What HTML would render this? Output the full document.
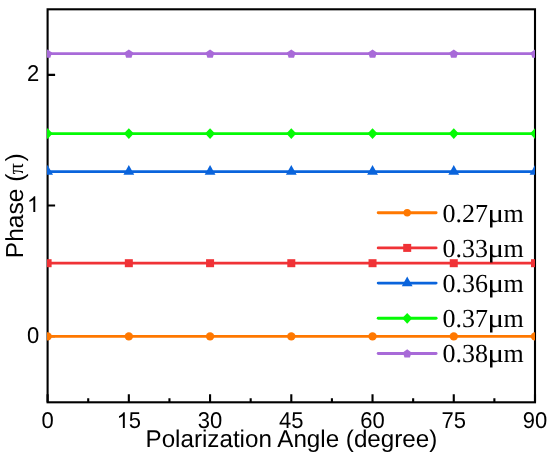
<!DOCTYPE html>
<html><head><meta charset="utf-8"><style>
html,body{margin:0;padding:0;background:#fff;}
body{width:550px;height:459px;overflow:hidden;}
svg{display:block;will-change:transform;}
text{text-rendering:geometricPrecision;}
text{font-family:"Liberation Sans",sans-serif;fill:#000;}
.s{font-family:"Liberation Serif",serif;}
</style></head><body>
<svg width="550" height="459" viewBox="0 0 550 459">
<defs><clipPath id="c"><rect x="47.00" y="0" width="488.00" height="459"/></clipPath></defs>

<rect x="47.6" y="9.3" width="487.4" height="393.0" fill="none" stroke="#000" stroke-width="2.1"/>
<path d="M47.60 402.3 V394.3 M128.83 402.3 V394.3 M210.07 402.3 V394.3 M291.30 402.3 V394.3 M372.53 402.3 V394.3 M453.77 402.3 V394.3 M535.00 402.3 V394.3 M88.22 402.3 V398.3 M169.45 402.3 V398.3 M250.68 402.3 V398.3 M331.92 402.3 V398.3 M413.15 402.3 V398.3 M494.38 402.3 V398.3 M47.6 336.10 H55.1 M47.6 205.50 H55.1 M47.6 74.90 H55.1" stroke="#000" stroke-width="2.1" fill="none"/>
<g clip-path="url(#c)">
<line x1="42.6" y1="336.4" x2="540.0" y2="336.4" stroke="#FF7800" stroke-width="2.8"/>
<circle cx="47.60" cy="336.40" r="4.20" fill="#FF7800"/>
<circle cx="128.83" cy="336.40" r="4.20" fill="#FF7800"/>
<circle cx="210.07" cy="336.40" r="4.20" fill="#FF7800"/>
<circle cx="291.30" cy="336.40" r="4.20" fill="#FF7800"/>
<circle cx="372.53" cy="336.40" r="4.20" fill="#FF7800"/>
<circle cx="453.77" cy="336.40" r="4.20" fill="#FF7800"/>
<circle cx="535.00" cy="336.40" r="4.20" fill="#FF7800"/>
<line x1="42.6" y1="263.2" x2="540.0" y2="263.2" stroke="#F03236" stroke-width="2.8"/>
<rect x="43.60" y="259.20" width="8.00" height="8.00" fill="#F03236"/>
<rect x="124.83" y="259.20" width="8.00" height="8.00" fill="#F03236"/>
<rect x="206.07" y="259.20" width="8.00" height="8.00" fill="#F03236"/>
<rect x="287.30" y="259.20" width="8.00" height="8.00" fill="#F03236"/>
<rect x="368.53" y="259.20" width="8.00" height="8.00" fill="#F03236"/>
<rect x="449.77" y="259.20" width="8.00" height="8.00" fill="#F03236"/>
<rect x="531.00" y="259.20" width="8.00" height="8.00" fill="#F03236"/>
<line x1="42.6" y1="171.6" x2="540.0" y2="171.6" stroke="#0A64DC" stroke-width="2.8"/>
<path d="M47.60 164.90 L53.00 174.80 L42.20 174.80Z" fill="#0A64DC"/>
<path d="M128.83 164.90 L134.23 174.80 L123.43 174.80Z" fill="#0A64DC"/>
<path d="M210.07 164.90 L215.47 174.80 L204.67 174.80Z" fill="#0A64DC"/>
<path d="M291.30 164.90 L296.70 174.80 L285.90 174.80Z" fill="#0A64DC"/>
<path d="M372.53 164.90 L377.93 174.80 L367.13 174.80Z" fill="#0A64DC"/>
<path d="M453.77 164.90 L459.17 174.80 L448.37 174.80Z" fill="#0A64DC"/>
<path d="M535.00 164.90 L540.40 174.80 L529.60 174.80Z" fill="#0A64DC"/>
<line x1="42.6" y1="133.6" x2="540.0" y2="133.6" stroke="#05FA05" stroke-width="2.8"/>
<path d="M47.60 128.20 L52.60 133.60 L47.60 139.00 L42.60 133.60Z" fill="#05FA05"/>
<path d="M128.83 128.20 L133.83 133.60 L128.83 139.00 L123.83 133.60Z" fill="#05FA05"/>
<path d="M210.07 128.20 L215.07 133.60 L210.07 139.00 L205.07 133.60Z" fill="#05FA05"/>
<path d="M291.30 128.20 L296.30 133.60 L291.30 139.00 L286.30 133.60Z" fill="#05FA05"/>
<path d="M372.53 128.20 L377.53 133.60 L372.53 139.00 L367.53 133.60Z" fill="#05FA05"/>
<path d="M453.77 128.20 L458.77 133.60 L453.77 139.00 L448.77 133.60Z" fill="#05FA05"/>
<path d="M535.00 128.20 L540.00 133.60 L535.00 139.00 L530.00 133.60Z" fill="#05FA05"/>
<line x1="42.6" y1="53.6" x2="540.0" y2="53.6" stroke="#A86AD8" stroke-width="2.8"/>
<polygon points="47.60,49.40 51.97,52.58 50.30,57.72 44.90,57.72 43.23,52.58" fill="#A86AD8"/>
<polygon points="128.83,49.40 133.21,52.58 131.54,57.72 126.13,57.72 124.46,52.58" fill="#A86AD8"/>
<polygon points="210.07,49.40 214.44,52.58 212.77,57.72 207.36,57.72 205.69,52.58" fill="#A86AD8"/>
<polygon points="291.30,49.40 295.67,52.58 294.00,57.72 288.60,57.72 286.93,52.58" fill="#A86AD8"/>
<polygon points="372.53,49.40 376.91,52.58 375.24,57.72 369.83,57.72 368.16,52.58" fill="#A86AD8"/>
<polygon points="453.77,49.40 458.14,52.58 456.47,57.72 451.06,57.72 449.39,52.58" fill="#A86AD8"/>
<polygon points="535.00,49.40 539.37,52.58 537.70,57.72 532.30,57.72 530.63,52.58" fill="#A86AD8"/>
</g>
<line x1="378.2" y1="212.7" x2="436.1" y2="212.7" stroke="#FF7800" stroke-width="2.9" stroke-linecap="round"/>
<circle cx="407.20" cy="212.70" r="3.70" fill="#FF7800"/>
<text class="s" y="221.5" font-size="26"><tspan x="442.5">0.27</tspan><tspan x="503.6">m</tspan></text>
<text class="s" transform="translate(487.39,221.5) scale(1.19,1)" font-size="26">μ</text>
<line x1="378.2" y1="247.9" x2="436.1" y2="247.9" stroke="#F03236" stroke-width="2.9" stroke-linecap="round"/>
<rect x="403.20" y="243.90" width="8.00" height="8.00" fill="#F03236"/>
<text class="s" y="256.7" font-size="26"><tspan x="442.5">0.33</tspan><tspan x="503.6">m</tspan></text>
<text class="s" transform="translate(487.39,256.7) scale(1.19,1)" font-size="26">μ</text>
<line x1="378.2" y1="283.1" x2="436.1" y2="283.1" stroke="#0A64DC" stroke-width="2.9" stroke-linecap="round"/>
<path d="M407.20 276.40 L412.60 286.30 L401.80 286.30Z" fill="#0A64DC"/>
<text class="s" y="291.9" font-size="26"><tspan x="442.5">0.36</tspan><tspan x="503.6">m</tspan></text>
<text class="s" transform="translate(487.39,291.9) scale(1.19,1)" font-size="26">μ</text>
<line x1="378.2" y1="318.3" x2="436.1" y2="318.3" stroke="#05FA05" stroke-width="2.9" stroke-linecap="round"/>
<path d="M407.20 312.90 L412.20 318.30 L407.20 323.70 L402.20 318.30Z" fill="#05FA05"/>
<text class="s" y="327.1" font-size="26"><tspan x="442.5">0.37</tspan><tspan x="503.6">m</tspan></text>
<text class="s" transform="translate(487.39,327.1) scale(1.19,1)" font-size="26">μ</text>
<line x1="378.2" y1="353.5" x2="436.1" y2="353.5" stroke="#A86AD8" stroke-width="2.9" stroke-linecap="round"/>
<polygon points="407.20,349.30 411.57,352.48 409.90,357.62 404.50,357.62 402.83,352.48" fill="#A86AD8"/>
<text class="s" y="362.3" font-size="26"><tspan x="442.5">0.38</tspan><tspan x="503.6">m</tspan></text>
<text class="s" transform="translate(487.39,362.3) scale(1.19,1)" font-size="26">μ</text>
<text transform="translate(41.48,428.00) scale(1,1.04)" font-size="22.0">0</text>
<path transform="translate(116.60,428.00) scale(0.01074,-0.01074)" d="M763,0 L583,0 L583,1147 Q518,1085 412,1023 Q306,961 221,930 L221,1104 Q372,1175 485,1276 Q598,1377 645,1472 L763,1472 Z" fill="#000"/><text transform="translate(128.83,428.00) scale(1,1.04)" font-size="22.0">5</text>
<text transform="translate(197.83,428.00) scale(1,1.04)" font-size="22.0">3</text><text transform="translate(210.07,428.00) scale(1,1.04)" font-size="22.0">0</text>
<text transform="translate(279.06,428.00) scale(1,1.04)" font-size="22.0">4</text><text transform="translate(291.30,428.00) scale(1,1.04)" font-size="22.0">5</text>
<text transform="translate(360.30,428.00) scale(1,1.04)" font-size="22.0">6</text><text transform="translate(372.53,428.00) scale(1,1.04)" font-size="22.0">0</text>
<text transform="translate(441.53,428.00) scale(1,1.04)" font-size="22.0">7</text><text transform="translate(453.77,428.00) scale(1,1.04)" font-size="22.0">5</text>
<text transform="translate(522.76,428.00) scale(1,1.04)" font-size="22.0">9</text><text transform="translate(535.00,428.00) scale(1,1.04)" font-size="22.0">0</text>
<text transform="translate(27.06,342.60) scale(1,1.04)" font-size="22.0">0</text>
<path transform="translate(27.06,212.00) scale(0.01074,-0.01074)" d="M763,0 L583,0 L583,1147 Q518,1085 412,1023 Q306,961 221,930 L221,1104 Q372,1175 485,1276 Q598,1377 645,1472 L763,1472 Z" fill="#000"/>
<text transform="translate(27.06,81.40) scale(1,1.04)" font-size="22.0">2</text>
<text transform="translate(291.4,446.7)" font-size="24.2" text-anchor="middle">Polarization Angle (degree)</text>
<text transform="translate(23.4,205.8) rotate(-90)" font-size="24.6" text-anchor="middle">Phase (<tspan class="s" font-size="22" dx="-0.7">π</tspan><tspan dx="1.5">)</tspan></text>
</svg></body></html>
